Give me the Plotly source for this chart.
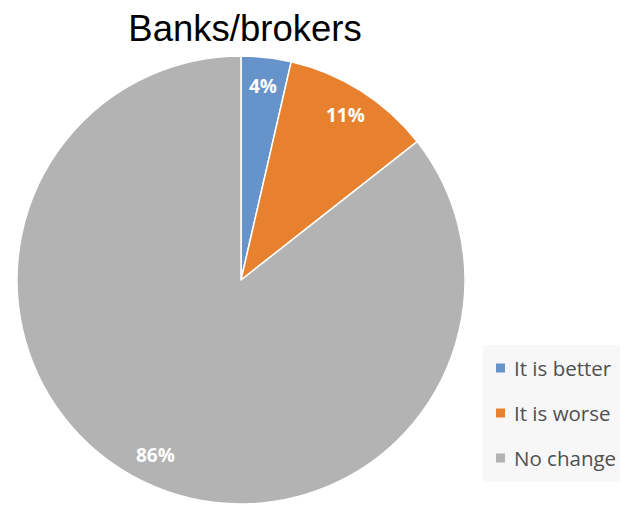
import math
import plotly.graph_objects as go

# ---- data ----
title = "Banks/brokers"
labels = ["It is better", "It is worse", "No change"]
values = [3.6, 10.8, 85.6]
colors = ["#6694CA", "#E8812E", "#B3B3B3"]

OFF = 8                    # page body margin of the browser
W, H = 628 - OFF, 505 - OFF
cx, cy, R = 241 - OFF, 280 - OFF, 224  # pixel geometry of the pie (figure pixels)


def px(x):
    return (x - OFF) / W


def py(y):
    return 1 - (y - OFF) / H


fig = go.Figure(go.Pie(
    labels=labels, values=values, sort=False, direction="clockwise", rotation=0,
    marker=dict(colors=colors, line=dict(color="white", width=1.5)),
    textinfo="none", hoverinfo="label+percent", showlegend=False,
    domain=dict(x=[(cx - R) / W, (cx + R) / W], y=[(H - cy - R) / H, min(1, (H - cy + R) / H)]),
))

annotations = []
# data labels at inside end of each slice, computed from the values
total = sum(values)
cum = 0.0
for v in values:
    mid = (cum + v / 2) / total * 2 * math.pi
    cum += v
    r = 0.87 * R
    x = cx + r * math.sin(mid)
    y = cy - r * math.cos(mid)
    annotations.append(dict(
        x=x / W, y=1 - y / H, xref="paper", yref="paper", showarrow=False,
        text=f"{round(v / total * 100)}%",
        font=dict(family="Open Sans", size=19, color="white", weight="bold"),
        xanchor="center", yanchor="middle"))

# legend
shapes = [dict(type="rect", xref="paper", yref="paper",
               x0=px(483), x1=1.02, y0=py(482), y1=py(345),
               fillcolor="#F7F7F7", line=dict(width=0), layer="below")]
for i, (lab, col) in enumerate(zip(labels, colors)):
    yc = 368 + 45 * i
    shapes.append(dict(type="rect", xref="paper", yref="paper",
                       x0=px(496), x1=px(505), y0=py(yc + 4.5), y1=py(yc - 4.5),
                       fillcolor=col, line=dict(width=0)))
    annotations.append(dict(x=px(512), y=py(yc), xref="paper", yref="paper",
                            showarrow=False, text=lab, xanchor="left", yanchor="middle",
                            font=dict(family="Open Sans", size=20.5, color="#505050")))

fig.update_layout(
    width=W, height=H, margin=dict(l=0, r=0, t=0, b=0),
    paper_bgcolor="white", plot_bgcolor="white",
    title=dict(text=title, x=px(245), xanchor="center", y=py(28.5), yanchor="middle",
               font=dict(family="Liberation Sans", size=36.5, color="black")),
    annotations=annotations, shapes=shapes,
)

fig.write_html("out.html")
